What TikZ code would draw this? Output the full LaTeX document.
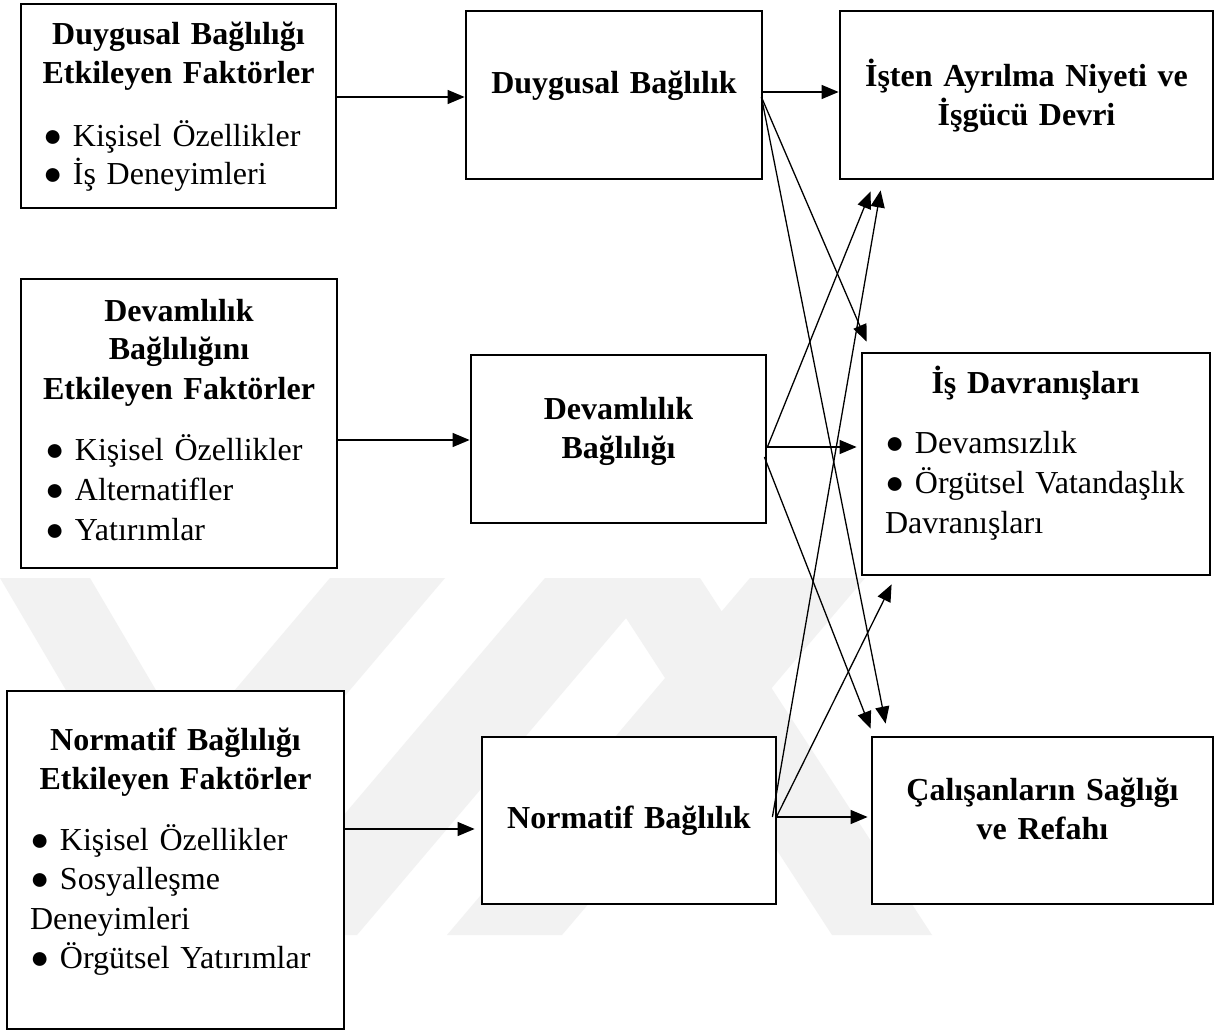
\documentclass[tikz,border=0pt]{standalone}
\usepackage{fontspec}
\setmainfont{Liberation Serif}
\usetikzlibrary{arrows.meta,calc}

\tikzset{
  box/.style={draw, line width=2.8pt, fill=white, inner sep=0pt},
  link/.style={line width=1.3pt, -{Triangle[length=17pt,width=14pt]}},
  head/.style={inner sep=0pt, outer sep=0pt, anchor=base, text width=360pt,
               align=center, font=\bfseries\fontsize{32}{39}\selectfont},
  list/.style={inner sep=0pt, outer sep=0pt, anchor=base west, text width=340pt,
               align=left, font=\fontsize{32}{39.5}\selectfont},
  wm/.style={fill=black!5}
}

\begin{document}
\begin{tikzpicture}[x=1pt,y=-1pt]
\useasboundingbox[fill=white] (0,0) rectangle (1226,1032);

% faint background stripes
\fill[wm] (0,578) -- (90,578) -- (300,935) -- (210,935) -- cycle;
\fill[wm] (330,578) -- (445,578) -- (142,935) -- (27,935) -- cycle;
\fill[wm] (545,578) -- (660,578) -- (357,935) -- (242,935) -- cycle;
\fill[wm] (750,578) -- (865,578) -- (562,935) -- (447,935) -- cycle;
\fill[wm] (600,578) -- (700,578) -- (932,935) -- (832,935) -- cycle;

% boxes
\node[box, minimum width=315pt, minimum height=204pt] (A) at (178.5,106) {};
\node[box, minimum width=316pt, minimum height=289pt] (B) at (179,423.5) {};
\node[box, minimum width=337pt, minimum height=338pt] (C) at (175.5,860) {};
\node[box, minimum width=296pt, minimum height=168pt] (D) at (614,95) {};
\node[box, minimum width=295pt, minimum height=168pt] (E) at (618.5,439) {};
\node[box, minimum width=294pt, minimum height=167pt] (F) at (629,820.5) {};
\node[box, minimum width=373pt, minimum height=168pt] (G) at (1026.5,95) {};
\node[box, minimum width=348pt, minimum height=222pt] (H) at (1036,464) {};
\node[box, minimum width=341pt, minimum height=167pt] (I) at (1042.5,820.5) {};

% headings
\node[head] (hA) at (178.5,45) {Duygusal Bağlılığı\\Etkileyen Faktörler};
\node[head] (hB) at (179,321) {Devamlılık\\Bağlılığını\\Etkileyen Faktörler};
\node[head] (hC) at (175.5,750) {Normatif Bağlılığı\\Etkileyen Faktörler};
\node[head] (hD) at (614,94) {Duygusal Bağlılık};
\node[head] (hE) at (618.5,419) {Devamlılık\\Bağlılığı};
\node[head] (hF) at (629,828) {Normatif Bağlılık};
\node[head] (hG) at (1026.5,87) {İşten Ayrılma Niyeti ve\\İşgücü Devri};
\node[head] (hH) at (1035.5,393) {İş Davranışları};
\node[head] (hI) at (1042.5,800) {Çalışanların Sağlığı\\ve Refahı};

% bullet lists
\node[list, font=\fontsize{32}{38}\selectfont] (lA) at (43,147)
  {● Kişisel Özellikler\\● İş Deneyimleri};
\node[list, font=\fontsize{32}{40}\selectfont] (lB) at (45,460)
  {● Kişisel Özellikler\\● Alternatifler\\● Yatırımlar};
\node[list] (lC) at (30,850)
  {● Kişisel Özellikler\\● Sosyalleşme\\Deneyimleri\\● Örgütsel Yatırımlar};
\node[list, font=\fontsize{32}{40}\selectfont] (lH) at (885,453)
  {● Devamsızlık\\● Örgütsel Vatandaşlık\\Davranışları};

% straight links
\draw[link] ($(A.east)+(0,-9)$) -- ($(D.west)+(0,2)$);
\draw[link] ($(B.east)+(0,16.5)$) -- ($(E.west)+(0,1)$);
\draw[link] ($(C.east)+(0,-31)$) -- ($(F.west)+(-6,8.5)$);
\draw[link] ($(D.east)+(0,-3)$) -- ($(G.west)+(0,-3)$);
\draw[link] ($(E.east)+(0,8)$) -- ($(H.west)+(-4,-17)$);
\draw[link] ($(F.east)+(0,-3.5)$) -- ($(I.west)+(-3,-3.5)$);

% crossing links
\draw[link] ($(D.east)+(-2,2)$) -- ($(H.north west)+(6,-10)$);
\draw[link] ($(D.east)+(-2,2)$) -- ($(I.north west)+(15,-12)$);
\draw[link] ($(E.east)+(0,8)$) -- ($(G.south west)+(32,11)$);
\draw[link] ($(E.east)+(-3,18)$) -- ($(I.north west)+(0,-7)$);
\draw[link] ($(F.east)+(-5,-3.5)$) -- ($(G.south west)+(42,10)$);
\draw[link] ($(F.east)+(-1,-3.5)$) -- ($(H.south west)+(31,8)$);
\end{tikzpicture}
\end{document}
